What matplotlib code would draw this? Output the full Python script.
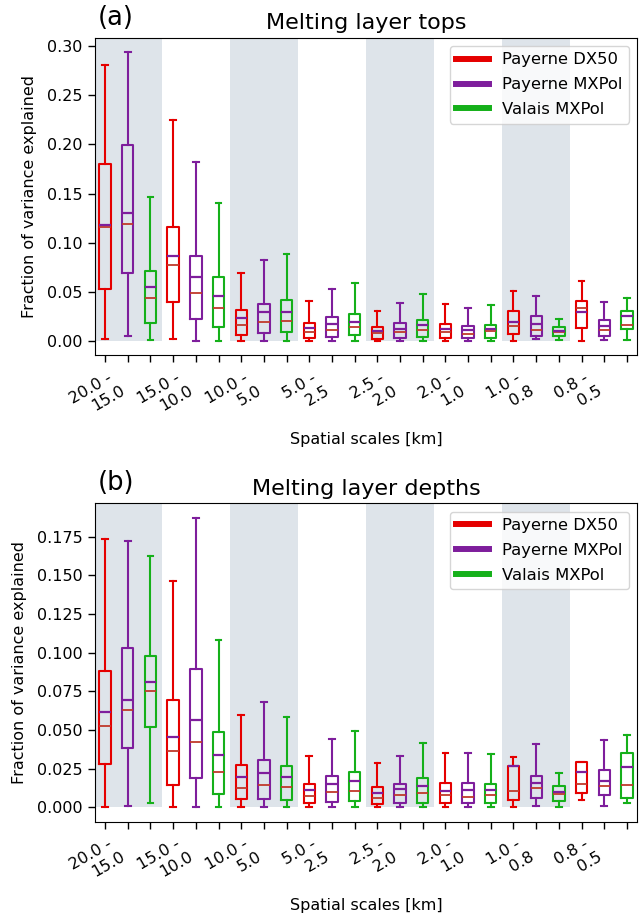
import numpy as np
import matplotlib
matplotlib.use("Agg")
import matplotlib.pyplot as plt

# spatial scale bands and radar datasets
scales = ["20.0 - \n15.0", "15.0 - \n10.0", "10.0 - \n5.0", "5.0 - \n2.5",
          "2.5 - \n2.0", "2.0 - \n1.0", "1.0 - \n0.8", "0.8 - \n0.5"]
radars = ["Payerne DX50", "Payerne MXPol", "Valais MXPol"]
colors = ["xkcd:red", "xkcd:purple", "xkcd:green"]

# box statistics, ordered by scale then radar (DX50, Payerne MXPol, Valais MXPol)
tops_lo = [0.0025, 0.0049, 0.0008, 0.0025, 0.0, 0.0, 0.0, 0.0, 0.0,
           0.0, 0.0, 0.0, 0.0, 0.0, 0.0, 0.0, 0.0, 0.0,
           0.0005, 0.0024, 0.0007, 0.0005, 0.0007, 0.0015]
tops_q1 = [0.0532, 0.0688, 0.0188, 0.0394, 0.0221, 0.0140, 0.0066, 0.0083, 0.0090,
           0.0032, 0.0042, 0.0059, 0.0025, 0.0032, 0.0042, 0.0032, 0.0032, 0.0035,
           0.0073, 0.0053, 0.0053, 0.0134, 0.0056, 0.0120]
tops_med = [0.1164, 0.1191, 0.0438, 0.0773, 0.0492, 0.0340, 0.0164, 0.0191, 0.0208,
            0.0096, 0.0117, 0.0140, 0.0079, 0.0090, 0.0110, 0.0090, 0.0076, 0.0099,
            0.0150, 0.0110, 0.0090, 0.0337, 0.0110, 0.0160]
tops_mean = [0.1181, 0.1300, 0.0553, 0.0867, 0.0647, 0.0454, 0.0235, 0.0292, 0.0292,
             0.0134, 0.0174, 0.0198, 0.0106, 0.0127, 0.0160, 0.0127, 0.0117, 0.0124,
             0.0191, 0.0177, 0.0106, 0.0296, 0.0157, 0.0252]
tops_q3 = [0.1797, 0.1996, 0.0715, 0.1164, 0.0864, 0.0647, 0.0313, 0.0380, 0.0414,
           0.0188, 0.0241, 0.0276, 0.0144, 0.0180, 0.0218, 0.0177, 0.0154, 0.0167,
           0.0309, 0.0255, 0.0147, 0.0407, 0.0211, 0.0302]
tops_hi = [0.2807, 0.2939, 0.1462, 0.2253, 0.1823, 0.1404, 0.0688, 0.0823, 0.0890,
           0.0404, 0.0525, 0.0593, 0.0309, 0.0383, 0.0482, 0.0377, 0.0333, 0.0363,
           0.0509, 0.0454, 0.0228, 0.0613, 0.0400, 0.0434]

depths_lo = [0.0, 0.0006, 0.0024, 0.0, 0.0, 0.0, 0.0, 0.0, 0.0,
             0.0, 0.0, 0.0, 0.0, 0.0, 0.0, 0.0, 0.0, 0.0,
             0.0, 0.0006, 0.0, 0.0048, 0.0006, 0.0030]
depths_q1 = [0.0279, 0.0382, 0.0518, 0.0141, 0.0190, 0.0084, 0.0054, 0.0056, 0.0048,
             0.0026, 0.0032, 0.0043, 0.0022, 0.0028, 0.0030, 0.0026, 0.0026, 0.0026,
             0.0048, 0.0058, 0.0043, 0.0093, 0.0076, 0.0058]
depths_med = [0.0525, 0.0631, 0.0752, 0.0365, 0.0424, 0.0231, 0.0126, 0.0143, 0.0132,
              0.0074, 0.0097, 0.0106, 0.0058, 0.0076, 0.0091, 0.0078, 0.0065, 0.0076,
              0.0106, 0.0126, 0.0084, 0.0151, 0.0136, 0.0145]
depths_mean = [0.0614, 0.0691, 0.0810, 0.0452, 0.0566, 0.0340, 0.0197, 0.0220, 0.0194,
               0.0113, 0.0149, 0.0167, 0.0091, 0.0117, 0.0136, 0.0108, 0.0113, 0.0113,
               0.0268, 0.0154, 0.0097, 0.0227, 0.0168, 0.0257]
depths_q3 = [0.0881, 0.1033, 0.0981, 0.0693, 0.0892, 0.0486, 0.0272, 0.0307, 0.0264,
             0.0147, 0.0203, 0.0225, 0.0130, 0.0149, 0.0186, 0.0158, 0.0156, 0.0151,
             0.0266, 0.0205, 0.0139, 0.0292, 0.0242, 0.0354]
depths_hi = [0.1737, 0.1722, 0.1625, 0.1467, 0.1873, 0.1080, 0.0599, 0.0683, 0.0586,
             0.0330, 0.0443, 0.0493, 0.0285, 0.0329, 0.0413, 0.0350, 0.0350, 0.0346,
             0.0324, 0.0408, 0.0220, 0.0292, 0.0437, 0.0465]

FS = 11.5
shade = "#dee4ea"
median_color = "#c0392b"


def box_panel(ax, lo, q1, med, mean, q3, hi, title, tag):
    stats = []
    for i in range(len(med)):
        stats.append(dict(whislo=lo[i], q1=q1[i], med=med[i], mean=mean[i],
                          q3=q3[i], whishi=hi[i], fliers=[]))
    pos = np.arange(len(stats))
    bp = ax.bxp(stats, positions=pos, widths=0.5, showmeans=True, meanline=True,
                showfliers=False, patch_artist=False,
                boxprops=dict(linewidth=1.5),
                whiskerprops=dict(linewidth=1.5),
                capprops=dict(linewidth=1.5),
                medianprops=dict(color=median_color, linewidth=1.3),
                meanprops=dict(color="xkcd:purple", linestyle="-", linewidth=1.6))
    for i in range(len(stats)):
        c = colors[i % 3]
        bp["boxes"][i].set_color(c)
        for art in bp["whiskers"][2 * i:2 * i + 2] + bp["caps"][2 * i:2 * i + 2]:
            art.set_color(c)

    # alternate shading of the scale bands
    ylo, yhi = ax.get_ylim()
    for g in range(0, len(scales), 2):
        ax.fill_between([3 * g - 0.5, 3 * g + 2.5], 0, yhi, color=shade,
                        linewidth=0, zorder=0)
    ax.set_ylim(ylo, yhi)
    ax.set_xlim(-0.45, len(stats) - 0.55)

    ax.set_xticks(pos)
    labels = []
    for i in range(len(stats)):
        labels.append(scales[i // 3] if i % 3 == 1 else "")
    ax.set_xticklabels(labels, rotation=30, ha="right", fontsize=FS)
    ax.tick_params(axis="both", length=5, pad=4, width=1)
    ax.tick_params(axis="y", labelsize=FS)
    ax.set_xlabel("Spatial scales [km]", fontsize=FS, labelpad=7)
    ax.set_ylabel("Fraction of variance explained", fontsize=FS, labelpad=7)
    ax.set_title(title, fontsize=16)
    ax.text(0.005, 1.022, tag, transform=ax.transAxes, fontsize=18.5,
            ha="left", va="bottom")

    handles = [plt.Line2D([], [], color=c, linewidth=4.3) for c in colors]
    ax.legend(handles, radars, loc="upper right", fontsize=11.8, labelspacing=0.6)


fig = plt.figure(figsize=(6.41, 9.15), dpi=100)
ax1 = fig.add_axes([0.148, 0.6115, 0.846, 0.3473])
ax2 = fig.add_axes([0.148, 0.1020, 0.846, 0.3479])

box_panel(ax1, tops_lo, tops_q1, tops_med, tops_mean, tops_q3, tops_hi,
          "Melting layer tops", "(a)")
box_panel(ax2, depths_lo, depths_q1, depths_med, depths_mean, depths_q3, depths_hi,
          "Melting layer depths", "(b)")

fig.savefig("out.png", dpi=100)
